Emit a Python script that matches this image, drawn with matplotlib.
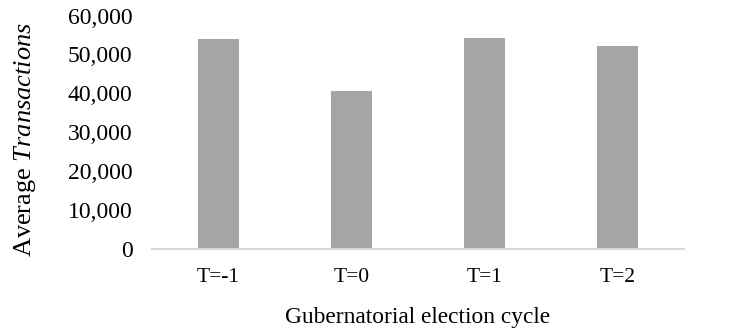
import matplotlib
matplotlib.use("Agg")
import matplotlib.pyplot as plt
from matplotlib.ticker import FuncFormatter

categories = ["T=-1", "T=0", "T=1", "T=2"]
values = [54000, 40600, 54300, 52200]
yticks = [0, 10000, 20000, 30000, 40000, 50000, 60000]

plt.rcParams['font.family'] = ['Liberation Serif', 'DejaVu Serif']
plt.rcParams['mathtext.fontset'] = 'custom'
plt.rcParams['mathtext.rm'] = 'Liberation Serif'
plt.rcParams['mathtext.it'] = 'Liberation Serif:italic'

fig = plt.figure(figsize=(7.46, 3.33), dpi=100)
ax = fig.add_axes([152/746, 1-249/333, 532/746, (249-15.6)/333])
x = range(len(categories))
ax.bar(x, values, width=0.313, color='#a5a5a5', zorder=2)
ax.set_xlim(-0.5, 3.5)
ax.set_ylim(0, 60000)
ax.set_yticks(yticks)
ax.yaxis.set_major_formatter(FuncFormatter(lambda v, p: f"{int(v):,}"))
ax.set_xticks(list(x))
ax.set_xticklabels(categories)
for s in ['top', 'right', 'left']:
    ax.spines[s].set_visible(False)
ax.spines['bottom'].set_color('#d9d9d9')
ax.spines['bottom'].set_linewidth(1.5)
ax.tick_params(axis='both', length=0, colors='black')
ax.tick_params(axis='y', labelsize=17, pad=14)
ax.tick_params(axis='x', labelsize=15.5, pad=14)
ax.set_ylabel("Average $\\mathit{Transactions}$", fontsize=19)
ax.yaxis.set_label_coords(-0.214, 0.471)
ax.set_xlabel("Gubernatorial election cycle", fontsize=16.8, labelpad=14)
fig.savefig("out.png", dpi=100)
